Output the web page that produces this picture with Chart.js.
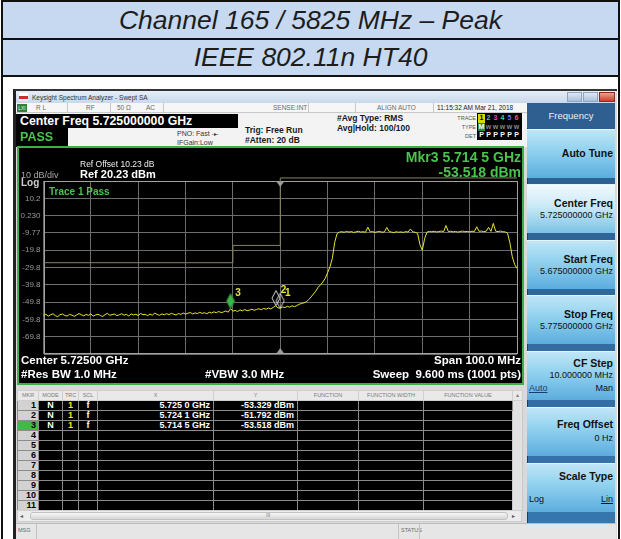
<!DOCTYPE html>
<html>
<head>
<meta charset="utf-8">
<title>Channel 165 / 5825 MHz – Peak</title>
<script src="https://cdn.jsdelivr.net/npm/chart.js@4.4.1/dist/chart.umd.min.js"></script>
<style>
* { box-sizing: border-box; }
body { margin: 0; background: #fff; font-family: "Liberation Sans", Arial, sans-serif; }
#page { position: relative; width: 621px; height: 539px; overflow: hidden; background: #fff; }
.a { position: absolute; white-space: nowrap; line-height: 1; }
.title { display: flex; align-items: center; justify-content: center; font-style: italic; font-size: 26.5px; color: #1d1d1d; background: #c6d9f1; }
.stat { position: absolute; font-size: 6.5px; color: #6a6a6a; top: 105px; line-height: 1; white-space: nowrap; }
.vd { position: absolute; width: 1px; background: #c8c8c8; top: 103px; height: 10px; }
.hdr { font-size: 8.5px; font-weight: bold; color: #1a1a1a; }
.small { font-size: 7px; color: #333; }
.disp { color: #fff; font-weight: bold; z-index: 3; }
.grn { color: #49c44c; font-weight: bold; z-index: 3; }
.key { position: absolute; left: 527px; width: 88px; height: 49px; background: linear-gradient(#bfe6f6, #8fd0ee 45%, #5badde); border-top: 1px solid #e4f5fc; }
.key.sel { background: linear-gradient(#f2fafd, #c8e9f6 45%, #7cc2e6); }
.key .l { position: absolute; right: 2px; top: 12.5px; font-size: 10.5px; font-weight: bold; color: #111; line-height: 1; white-space: nowrap; }
.key .v { position: absolute; right: 2px; top: 26px; font-size: 9px; color: #111; line-height: 1; white-space: nowrap; }
.key .lv { position: absolute; left: 2px; font-size: 9px; color: #111; line-height: 1; }
#mk { position: absolute; left: 17px; top: 390px; width: 505px; border-collapse: collapse; table-layout: fixed; font-size: 9px; }
#mk th, #mk td { padding: 0 2px; border: 1px solid #8c8c8c; line-height: 1; white-space: nowrap; overflow: hidden; }
#mk tr { height: 10px; }
#mk th { background: #e9e9e9; color: #7c7c7c; font-weight: normal; font-size: 5.5px; border-color: #cfcfcf; text-align: center; }
#mk td { background: #000; color: #fff; font-weight: bold; }
#mk td.n { background: #d2d2d2; color: #000; text-align: right; padding-right: 2px; }
#mk td.n.on { background: #3cba4a; }
#mk td.c { text-align: center; }
#mk td.r { text-align: right; padding-right: 3px; }
#mk td.sb { background: #e2e2e2; border-color: #c8c8c8; }
#tb span { display: inline-block; width: 7px; text-align: center; }
</style>
</head>
<body>
<div id="page">
  <!-- title table -->
  <div class="a" style="left:1px;top:0;width:619px;height:600px;border:2px solid #111;"></div>
  <div class="a title" style="left:3px;top:2px;width:615px;height:36px;">Channel 165 / 5825 MHz – Peak</div>
  <div class="a" style="left:3px;top:38px;width:615px;height:2px;background:#111;"></div>
  <div class="a title" style="left:3px;top:40px;width:615px;height:35px;">IEEE 802.11n HT40</div>
  <div class="a" style="left:3px;top:75px;width:615px;height:2px;background:#111;"></div>

  <!-- analyzer window -->
  <div class="a" style="left:13px;top:89px;width:604px;height:460px;background:#d9d9d9;border-left:3px solid #222;border-top:2px solid #333;"></div>
  <div class="a" style="left:16px;top:91px;width:600px;height:12px;background:linear-gradient(#e6eef8,#c9d8ec);"></div>
  <div class="a" style="left:19px;top:93px;width:9px;height:8px;background:linear-gradient(#fff 0 40%,#c83030 40% 70%,#eee 70%);"></div>
  <div class="a" style="left:32px;top:94.5px;font-size:6.5px;color:#333;">Keysight Spectrum Analyzer - Swept SA</div>
  <div class="a" style="left:567px;top:92px;width:15px;height:10px;background:linear-gradient(#dfe9f5,#a9bfdc);border:1px solid #8ea4c0;"></div>
  <div class="a" style="left:583px;top:92px;width:15px;height:10px;background:linear-gradient(#dfe9f5,#a9bfdc);border:1px solid #8ea4c0;"></div>
  <div class="a" style="left:599px;top:92px;width:16px;height:10px;background:linear-gradient(#f0a090,#c8402c);border:1px solid #8a2a20;"></div>

  <!-- status row -->
  <div class="a" style="left:16px;top:103px;width:511px;height:10px;background:#f6f6f6;border-bottom:1px solid #c8c8c8;"></div>
  <div class="a" style="left:17px;top:104px;width:10px;height:8px;background:#3b7d2e;color:#cfe;font-size:5px;padding-top:1.5px;text-align:center;">LXI</div>
  <div class="stat" style="left:36px;">R L</div>
  <div class="vd" style="left:67px;"></div>
  <div class="stat" style="left:86px;">RF</div>
  <div class="vd" style="left:110px;"></div>
  <div class="stat" style="left:117px;">50 Ω</div>
  <div class="stat" style="left:146px;">AC</div>
  <div class="vd" style="left:163px;"></div>
  <div class="stat" style="left:273px;">SENSE:INT</div>
  <div class="vd" style="left:308px;"></div>
  <div class="vd" style="left:355px;"></div>
  <div class="stat" style="left:377px;">ALIGN AUTO</div>
  <div class="vd" style="left:433px;"></div>
  <div class="stat" style="left:437px;color:#222;">11:15:32 AM Mar 21, 2018</div>

  <!-- header -->
  <div class="a" style="left:16px;top:113px;width:511px;height:34px;background:#f3f3f3;"></div>
  <div class="a" style="left:16px;top:114px;width:222px;height:14px;background:#000;"></div>
  <div class="a disp" style="left:20px;top:115px;font-size:12.3px;">Center Freq 5.725000000 GHz</div>
  <div class="a" style="left:16px;top:128px;width:52px;height:19px;background:#000;"></div>
  <div class="a grn" style="left:20px;top:131.3px;font-size:12.5px;">PASS</div>
  <div class="a small" style="left:177px;top:129.5px;">PNO: Fast <span style="font-size:6px">-▸-</span></div>
  <div class="a small" style="left:177px;top:138.5px;">IFGain:Low</div>
  <div class="a hdr" style="left:245px;top:125.7px;">Trig: Free Run</div>
  <div class="a hdr" style="left:245px;top:135.7px;">#Atten: 20 dB</div>
  <div class="a hdr" style="left:337px;top:113.7px;">#Avg Type: RMS</div>
  <div class="a hdr" style="left:337px;top:123.7px;">Avg|Hold: 100/100</div>
  <div class="a" style="left:448px;top:115.5px;width:28px;text-align:right;font-size:5.5px;color:#555;">TRACE</div>
  <div class="a" style="left:448px;top:124.5px;width:28px;text-align:right;font-size:5.5px;color:#555;">TYPE</div>
  <div class="a" style="left:448px;top:133.5px;width:28px;text-align:right;font-size:5.5px;color:#555;">DET</div>
  <div class="a" id="tb" style="left:477px;top:113px;width:45px;height:27px;background:#000;font-size:7px;font-weight:bold;padding:1px 0 0 1px;line-height:8.5px;">
    <div><span style="background:#d8d800;color:#000">1</span><span style="color:#2cc6f0">2</span><span style="color:#e040e0">3</span><span style="color:#40d890">4</span><span style="color:#6a70ff">5</span><span style="color:#ff4a8a">6</span></div>
    <div><span style="background:#2f8a2f;color:#fff">M</span><span style="color:#888">w</span><span style="color:#888">w</span><span style="color:#888">w</span><span style="color:#888">w</span><span style="color:#888">w</span></div>
    <div style="color:#fff"><span>P</span><span>P</span><span>P</span><span>P</span><span>P</span><span>P</span></div>
  </div>

  <!-- display -->
  <div class="a" style="left:17px;top:146px;width:507px;height:239px;border:2px solid #3fae49;background:#000;"></div>
  <canvas id="spec" width="503" height="235" style="position:absolute;left:19px;top:148px;z-index:2;"></canvas>
  <div class="a" style="left:80px;top:159.8px;font-size:8.5px;color:#eee;z-index:3;">Ref Offset 10.23 dB</div>
  <div class="a disp" style="left:80px;top:169px;font-size:11px;">Ref 20.23 dBm</div>
  <div class="a" style="left:21px;top:170.5px;font-size:9px;color:#a8a8a8;z-index:3;">10 dB/div</div>
  <div class="a" style="left:21px;top:177.7px;font-size:10px;color:#cfcfcf;font-weight:bold;z-index:3;">Log</div>
  <div class="a grn" style="left:49px;top:187.3px;font-size:10px;">Trace 1 Pass</div>
  <div class="a grn" style="right:100px;top:149.7px;font-size:14px;">Mkr3 5.714 5 GHz</div>
  <div class="a grn" style="right:100px;top:164.7px;font-size:14px;">-53.518 dBm</div>
  <div class="a disp" style="left:21px;top:355.3px;font-size:11.5px;">Center 5.72500 GHz</div>
  <div class="a disp" style="right:100px;top:355.3px;font-size:11.5px;">Span 100.0 MHz</div>
  <div class="a disp" style="left:21px;top:369.3px;font-size:11.5px;">#Res BW 1.0 MHz</div>
  <div class="a disp" style="left:205px;top:369.3px;font-size:11.5px;">#VBW 3.0 MHz</div>
  <div class="a disp" style="right:100px;top:369.3px;font-size:11.5px;">Sweep&nbsp; 9.600 ms (1001 pts)</div>

  <!-- marker table -->
  <table id="mk">
    <colgroup><col style="width:21px"><col style="width:24px"><col style="width:16px"><col style="width:19px"><col style="width:116px"><col style="width:84px"><col style="width:61px"><col style="width:65px"><col style="width:89px"><col style="width:10px"></colgroup>
    <thead><tr><th>MKR</th><th>MODE</th><th>TRC</th><th>SCL</th><th>X</th><th>Y</th><th>FUNCTION</th><th>FUNCTION WIDTH</th><th>FUNCTION VALUE</th><th>▴</th></tr></thead>
    <tbody id="mkBody"></tbody>
  </table>
  <div class="a" style="left:17px;top:510px;width:505px;height:12px;background:#ececec;border:1px solid #cfcfcf;"></div>
  <div class="a" style="left:30px;top:512px;width:478px;height:8px;background:linear-gradient(#f6f6f6,#d6d6d6);border:1px solid #c2c2c2;border-radius:3px;"></div>
  <div class="a" style="left:20px;top:512.5px;font-size:6px;color:#555;">◂</div>
  <div class="a" style="left:512px;top:512.5px;font-size:6px;color:#555;">▸</div>
  <div class="a" style="left:266px;top:513px;font-size:5px;color:#777;">III</div>

  <!-- msg bar -->
  <div class="a" style="left:16px;top:523px;width:600px;height:16px;background:#e6e6e6;border-top:1px solid #bdbdbd;"></div>
  <div class="a" style="left:18px;top:528px;font-size:5.5px;color:#666;">MSG</div>
  <div class="a" style="left:36px;top:524px;width:1px;height:15px;background:#c2c2c2;"></div>
  <div class="a" style="left:398px;top:524px;width:1px;height:15px;background:#c2c2c2;"></div>
  <div class="a" style="left:401px;top:528px;font-size:5.5px;color:#666;">STATUS</div>
  <div class="a" style="left:419px;top:524px;width:1px;height:15px;background:#c2c2c2;"></div>

  <!-- softkey panel -->
  <div class="a" style="left:527px;top:103px;width:88px;height:420px;background:linear-gradient(#2b5c8c,#3677ae);border-left:1px solid #1d3f63;"></div>
  <div class="a" style="left:527px;top:103px;width:88px;height:25px;background:#2e5f90;color:#e8eff7;font-size:9.5px;display:flex;align-items:center;justify-content:center;">Frequency</div>
  <div class="key" style="top:129px;"><span class="l" style="top:17.7px;">Auto Tune</span></div>
  <div class="key sel" style="top:184px;"><span class="l">Center Freq</span><span class="v">5.725000000 GHz</span></div>
  <div class="key" style="top:240px;"><span class="l">Start Freq</span><span class="v">5.675000000 GHz</span></div>
  <div class="key" style="top:295px;"><span class="l">Stop Freq</span><span class="v">5.775000000 GHz</span></div>
  <div class="key" style="top:351px;"><span class="l" style="top:5.8px;">CF Step</span><span class="v" style="top:18.5px;">10.000000 MHz</span><span class="lv" style="top:31.5px;text-decoration:underline;color:#1b3c6e;">Auto</span><span class="v" style="top:31.5px;">Man</span></div>
  <div class="key" style="top:407px;"><span class="l" style="top:10.8px;">Freq Offset</span><span class="v" style="top:25.5px;">0 Hz</span></div>
  <div class="key" style="top:463px;"><span class="l" style="top:6.8px;">Scale Type</span><span class="lv" style="top:30.5px;">Log</span><span class="v" style="top:30.5px;text-decoration:underline;">Lin</span></div>
</div>

<script>
// sweep settings
const START_MHZ = 5675;
const STOP_MHZ = 5775;
const STEP_MHZ = 0.5;
const CENTER_MHZ = 5725;
const REF_DBM = 20.23;
const BOTTOM_DBM = -79.77;

// trace 1 (dBm), one value per 0.5 MHz from 5675 to 5775 MHz
const traceDbm = [
  -57.4, -56.8, -57.9, -57.1, -56.5, -57.6, -58.2, -57.0, -56.7, -57.5,
  -57.8, -56.9, -57.3, -58.0, -57.2, -56.4, -57.1, -57.7, -56.9, -57.4,
  -56.6, -57.9, -57.2, -56.8, -57.5, -58.1, -57.0, -56.3, -57.4, -57.0,
  -56.7, -57.6, -57.1, -56.5, -57.3, -56.9, -57.8, -56.6, -57.2, -56.8,
  -57.5, -56.4, -57.0, -56.9, -57.6, -56.7, -57.3, -56.2, -56.9, -57.4,
  -56.6, -57.1, -56.5, -57.0, -56.3, -56.8, -57.2, -56.4, -56.9, -56.1,
  -56.7, -56.2, -55.8, -56.6, -56.0, -56.4, -55.7, -56.3, -55.9, -56.5,
  -55.6, -56.1, -55.4, -55.9, -55.2, -55.8, -55.5, -54.9, -55.6, -53.5,
  -55.0, -54.6, -55.2, -54.3, -54.8, -54.1, -54.7, -54.4, -53.9, -54.5,
  -54.0, -53.6, -54.2, -53.4, -53.9, -53.2, -53.7, -52.9, -51.8, -53.1,
  -53.3, -52.6, -52.9, -52.2, -52.7, -51.9, -52.4, -51.8, -51.0, -50.6,
  -50.2, -49.6, -48.4, -46.8, -45.1, -43.4, -41.2, -39.8, -38.1, -36.0,
  -32.8, -29.4, -24.5, -15.2, -10.2, -9.3, -9.1, -9.4, -8.9, -9.3,
  -9.0, -9.5, -9.2, -8.8, -9.3, -9.1, -9.4, -6.5, -9.2, -9.0,
  -9.5, -9.1, -8.9, -9.4, -9.2, -6.6, -9.0, -9.3, -9.6, -9.1,
  -9.4, -9.2, -9.5, -9.0, -9.3, -7.5, -9.2, -9.4, -10.0, -16.5,
  -19.8, -13.0, -9.3, -8.9, -9.1, -8.8, -9.2, -9.0, -8.7, -9.1,
  -5.5, -9.0, -8.8, -9.2, -8.9, -9.3, -9.0, -8.7, -9.1, -8.9,
  -9.2, -8.8, -9.0, -6.2, -8.9, -8.7, -9.1, -8.8, -6.5, -8.9,
  -4.3, -8.8, -9.0, -8.7, -9.1, -9.2, -9.9, -15.5, -23.5, -28.0,
  -30.3
];

// limit line
const limitMhz = [5675, 5715, 5715, 5725, 5725, 5775];
const limitDbm = [-27, -27, -17, -17, 22, 22];

// markers
const markerNames = ['1', '2', '3'];
const markerMhz = [5725.0, 5724.1, 5714.5];
const markerDbm = [-53.329, -51.792, -53.518];

// graticule
const xGridMhz = [5675, 5685, 5695, 5705, 5715, 5725, 5735, 5745, 5755, 5765, 5775];
const yGridDbm = [20.23, 10.23, 0.23, -9.77, -19.77, -29.77, -39.77, -49.77, -59.77, -69.77, -79.77];
const yTickLabels = ['', '10.2', '0.230', '-9.77', '-19.8', '-29.8', '-39.8', '-49.8', '-59.8', '-69.8', ''];

const sweepMhz = traceDbm.map((_, i) => START_MHZ + i * STEP_MHZ);

// marker table rows
const body = document.getElementById('mkBody');
for (let r = 0; r < 11; r++) {
  const tr = document.createElement('tr');
  let cells = '';
  if (r < markerMhz.length) {
    const ghz = (markerMhz[r] / 1000).toFixed(4);
    const xs = ghz.slice(0, -1) + ' ' + ghz.slice(-1) + ' GHz';
    const ys = markerDbm[r].toFixed(3) + ' dBm';
    cells = `<td class="n${r === 2 ? ' on' : ''}">${r + 1}</td><td class="c">N</td><td class="c" style="color:#f0f000">1</td><td class="c">f</td><td class="r">${xs}</td><td class="r">${ys}</td><td></td><td></td><td></td>`;
  } else {
    cells = `<td class="n">${r + 1}</td><td></td><td></td><td></td><td></td><td></td><td></td><td></td><td></td>`;
  }
  if (r === 0) cells += '<td class="sb" rowspan="11"></td>';
  tr.innerHTML = cells;
  body.appendChild(tr);
}

function diamond(fill, stroke) {
  const c = document.createElement('canvas');
  c.width = 10;
  c.height = 32;
  const g = c.getContext('2d');
  g.beginPath();
  g.moveTo(5, 1); g.lineTo(9, 8.5); g.lineTo(5, 16); g.lineTo(1, 8.5);
  g.closePath();
  if (fill) { g.fillStyle = fill; g.fill(); }
  g.strokeStyle = stroke;
  g.lineWidth = 1;
  g.stroke();
  return c;
}
const mkOpen = diamond(null, '#d8d8d8');
const mkActive = diamond('#3cb54a', '#2a8a34');

const specDecor = {
  id: 'specDecor',
  beforeDatasetsDraw(chart) {
    const { ctx, chartArea: a } = chart;
    ctx.save();
    ctx.strokeStyle = '#a2a2a2';
    ctx.lineWidth = 1;
    ctx.strokeRect(Math.round(a.left) + 0.5, Math.round(a.top) + 0.5, Math.round(a.right - a.left) - 1, Math.round(a.bottom - a.top) - 1);
    ctx.restore();
  },
  afterDatasetsDraw(chart) {
    const { ctx, chartArea: a, scales: { x, y } } = chart;
    const cx = x.getPixelForValue(CENTER_MHZ);
    ctx.save();
    ctx.fillStyle = '#9b9b9b';
    ctx.beginPath(); ctx.moveTo(cx - 3.5, a.top + 1); ctx.lineTo(cx + 3.5, a.top + 1); ctx.lineTo(cx, a.top + 6); ctx.fill();
    ctx.beginPath(); ctx.moveTo(cx - 3.5, a.bottom - 1); ctx.lineTo(cx + 3.5, a.bottom - 1); ctx.lineTo(cx, a.bottom - 6); ctx.fill();
    ctx.fillStyle = '#e4e43a';
    ctx.font = 'bold 10px "Liberation Sans", Arial';
    ctx.textAlign = 'center';
    ctx.textBaseline = 'middle';
    markerMhz.forEach((f, i) => {
      ctx.fillText(markerNames[i], x.getPixelForValue(f) + 7.5, y.getPixelForValue(markerDbm[i]) - 15.5);
    });
    ctx.restore();
  }
};

Chart.defaults.font.family = '"Liberation Sans", Arial, sans-serif';

new Chart(document.getElementById('spec'), {
  type: 'line',
  data: {
    datasets: [
      {
        label: 'Markers',
        data: markerMhz.map((f, i) => ({ x: f, y: markerDbm[i] })),
        showLine: false,
        pointStyle: [mkOpen, mkOpen, mkActive],
        pointRadius: 4,
        order: 0
      },
      {
        label: 'Trace 1',
        data: traceDbm.map((v, i) => ({ x: sweepMhz[i], y: v })),
        borderColor: '#e6e62c',
        borderWidth: 1,
        pointRadius: 0,
        tension: 0,
        order: 1
      },
      {
        label: 'Limit',
        data: limitMhz.map((f, i) => ({ x: f, y: limitDbm[i] })),
        borderColor: '#878262',
        borderWidth: 1,
        pointRadius: 0,
        tension: 0,
        clip: false,
        order: 2
      }
    ]
  },
  options: {
    responsive: false,
    animation: false,
    layout: { padding: { left: 0, right: 1, top: 33, bottom: 29 } },
    plugins: { legend: { display: false }, tooltip: { enabled: false } },
    scales: {
      x: {
        type: 'linear',
        min: START_MHZ,
        max: STOP_MHZ,
        afterBuildTicks: s => { s.ticks = xGridMhz.map(v => ({ value: v })); },
        afterFit: s => { s.height = 0; },
        ticks: { display: false },
        grid: { color: '#6c6c6c', drawTicks: false },
        border: { display: false }
      },
      y: {
        min: BOTTOM_DBM,
        max: REF_DBM,
        afterBuildTicks: s => { s.ticks = yGridDbm.map(v => ({ value: v })); },
        afterFit: s => { s.width = 24.5; },
        ticks: {
          callback: (v, i) => yTickLabels[i],
          color: '#9a9a9a',
          font: { size: 8 },
          padding: 3,
          autoSkip: false
        },
        grid: { color: '#6c6c6c', drawTicks: false },
        border: { display: false }
      }
    }
  },
  plugins: [specDecor]
});
</script>
</body>
</html>
